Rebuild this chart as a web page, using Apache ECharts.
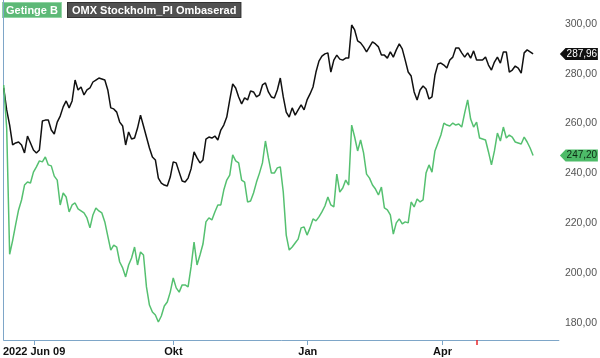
<!DOCTYPE html>
<html>
<head>
<meta charset="utf-8">
<script src="https://cdn.jsdelivr.net/npm/echarts@6/dist/echarts.min.js"></script>
<style>
html,body{margin:0;padding:0;background:#fff;}
#c{width:600px;height:358px;}
</style>
</head>
<body>
<div id="c"></div>
<script>
// OMX Stockholm_PI (rebased) — one value per sample step
const omxValues = [
274.3,265.5,259.4,251.4,252.2,252.6,251.4,248.2,255.0,252.2,
249.4,248.2,249.4,261.0,261.4,261.4,257.4,255.8,260.6,263.0,
266.7,269.1,266.3,269.1,277.5,273.5,274.7,271.5,273.5,274.3,
276.7,277.5,278.3,277.9,277.5,273.5,266.3,265.9,264.6,260.6,
259.0,251.4,256.6,253.8,254.2,258.2,263.4,259.0,254.6,250.2,
246.6,245.4,238.1,236.1,235.3,234.9,238.5,244.6,244.2,240.5,
236.9,236.5,238.1,241.8,248.6,246.2,244.2,245.4,253.8,254.6,
254.2,255.0,253.4,257.4,259.4,262.6,269.5,275.9,274.3,270.7,
267.9,270.3,269.5,273.1,272.7,270.7,271.5,275.5,276.3,272.7,
270.7,270.3,273.5,278.3,270.7,264.6,262.6,266.3,263.4,265.5,
267.5,265.5,269.5,271.9,274.7,280.7,285.1,287.1,288.0,288.4,
280.7,285.5,287.5,285.9,285.5,286.3,286.3,299.6,297.6,293.2,
292.4,290.8,288.8,290.8,292.8,292.0,290.8,287.5,287.5,286.3,
288.8,286.7,289.6,292.0,290.0,285.5,280.7,279.1,272.7,269.5,
273.5,275.1,273.9,269.9,270.7,279.5,283.9,284.3,283.5,282.3,
285.5,286.7,290.4,290.4,288.4,286.7,288.4,286.3,289.2,285.5,
285.5,285.5,286.7,283.5,281.5,284.7,286.7,284.3,288.8,288.8,
280.7,281.5,283.1,282.3,280.3,288.4,289.6,288.8,287.96
];
// Getinge B
const getingeValues = [
275.5,258.2,207.5,213.0,219.3,225.3,229.3,235.3,236.5,236.1,
240.5,242.6,245.0,244.6,246.6,243.4,243.0,238.9,237.3,227.3,
232.1,230.5,224.5,227.3,228.1,225.7,224.9,224.1,222.1,218.1,
223.3,226.1,224.9,224.1,220.5,214.8,209.2,211.2,210.4,204.4,
202.0,198.4,203.2,206.0,210.4,203.2,208.4,207.2,194.4,187.1,
184.3,183.1,180.3,182.7,186.7,188.3,192.3,198.0,194.0,192.3,
195.2,195.2,194.4,202.4,212.4,203.2,207.2,211.6,220.5,222.1,
221.3,224.5,227.3,227.3,233.3,237.3,239.3,247.4,245.0,244.2,
237.3,236.5,228.5,228.9,232.1,236.5,240.1,244.2,253.0,246.2,
240.1,240.1,242.2,242.6,232.5,215.2,209.2,210.4,212.0,213.6,
218.1,218.5,215.2,218.1,221.7,220.9,222.5,224.5,226.9,230.5,
227.3,226.5,239.7,232.5,234.1,237.3,235.3,259.4,254.6,249.0,
253.4,248.2,239.7,238.1,235.3,233.7,231.3,234.5,226.1,225.3,
223.3,215.6,220.1,221.7,219.7,220.5,220.1,228.5,226.5,229.7,
228.5,229.3,240.1,243.4,240.5,249.0,252.2,255.4,260.2,259.4,
259.0,260.2,259.4,259.8,258.6,264.3,269.5,261.8,258.6,260.6,
254.2,253.8,253.4,248.6,243.4,249.0,256.2,253.0,258.6,254.2,
255.4,254.6,252.6,252.2,251.8,254.6,252.6,250.2,247.2
];
const seriesNames = ['Getinge B', 'OMX Stockholm_PI Ombaserad'];
const xTickLabels = ['2022 Jun 09', 'Okt', 'Jan', 'Apr'];
const xTickPos = [10.23, 57.07, 102.23, 147.53];
const markerTickPos = [159.07];
const yTickValues = [180, 200, 220, 240, 260, 280, 300];

const X_MAX = 186.67;
const fmt = v => v.toFixed(2).replace('.', ',');
const toPairs = arr => arr.map((v, i) => [i, v]);
const axisBlue = '#7ea6c8';
const green = '#55c070';
const tagPath = 'path://M0,6 L6,0 L40,0 L40,12 L6,12 Z';

function tag(values, bg, fg) {
  const last = values[values.length - 1];
  return {
    silent: true,
    symbol: tagPath,
    symbolSize: [38, 12],
    symbolOffset: [20, 0],
    itemStyle: { color: bg },
    label: {
      show: true, position: 'inside', color: fg, fontSize: 10,
      fontFamily: 'Liberation Sans, Arial, sans-serif', offset: [3, 0],
      formatter: () => fmt(last)
    },
    data: [{ coord: [X_MAX, last] }]
  };
}

const chart = echarts.init(document.getElementById('c'), null, { renderer: 'canvas' });
chart.setOption({
  animation: false,
  backgroundColor: '#fff',
  grid: { left: 0, right: 40, top: 0, bottom: 18 },
  xAxis: [{
    type: 'value', min: 0, max: X_MAX,
    splitLine: { show: false },
    axisLine: { show: true, lineStyle: { color: axisBlue, width: 1 } },
    axisTick: { show: true, customValues: xTickPos, length: 5, lineStyle: { color: axisBlue } },
    axisLabel: {
      show: true, customValues: xTickPos, margin: 6,
      color: '#111', fontWeight: 'bold', fontSize: 11,
      fontFamily: 'Liberation Sans, Arial, sans-serif',
      formatter: v => {
        let best = 0;
        xTickPos.forEach((p, i) => { if (Math.abs(p - v) < Math.abs(xTickPos[best] - v)) best = i; });
        return xTickLabels[best];
      }
    }
  }, {
    type: 'value', min: 0, max: X_MAX, position: 'bottom',
    splitLine: { show: false },
    axisLine: { show: false },
    axisTick: { show: true, customValues: markerTickPos, length: 5, lineStyle: { color: '#e8262b', width: 1.5 } },
    axisLabel: { show: false }
  }],
  yAxis: {
    type: 'value', position: 'right', min: 173.06, max: 309.64,
    splitLine: { show: false },
    axisLine: { show: true, lineStyle: { color: axisBlue, width: 1 } },
    axisTick: { show: false },
    axisLabel: {
      show: true, customValues: yTickValues, margin: 6,
      color: '#555', fontSize: 10.5,
      fontFamily: 'Liberation Sans, Arial, sans-serif',
      formatter: v => fmt(v)
    }
  },
  series: [{
    name: seriesNames[1], type: 'line', data: toPairs(omxValues),
    showSymbol: false, symbol: 'none',
    lineStyle: { color: '#111', width: 1.5 },
    markPoint: tag(omxValues, '#111', '#fff')
  }, {
    name: seriesNames[0], type: 'line', data: toPairs(getingeValues),
    showSymbol: false, symbol: 'none',
    lineStyle: { color: green, width: 1.5 },
    markPoint: tag(getingeValues, '#4dbb68', '#0d2a14')
  }],
  graphic: [{
    type: 'text', left: 2, top: 2,
    style: {
      text: seriesNames[0], fill: '#fff',
      font: 'bold 11px "Liberation Sans", Arial, sans-serif',
      backgroundColor: '#5db977', borderColor: '#8fd3a2', borderWidth: 1,
      padding: [2, 3, 1, 3]
    }
  }, {
    type: 'text', left: 67, top: 2,
    style: {
      text: seriesNames[1], fill: '#fff',
      font: 'bold 11px "Liberation Sans", Arial, sans-serif',
      backgroundColor: '#515151', borderColor: '#333', borderWidth: 1,
      padding: [2, 4, 1, 4]
    }
  }]
});
</script>
</body>
</html>
